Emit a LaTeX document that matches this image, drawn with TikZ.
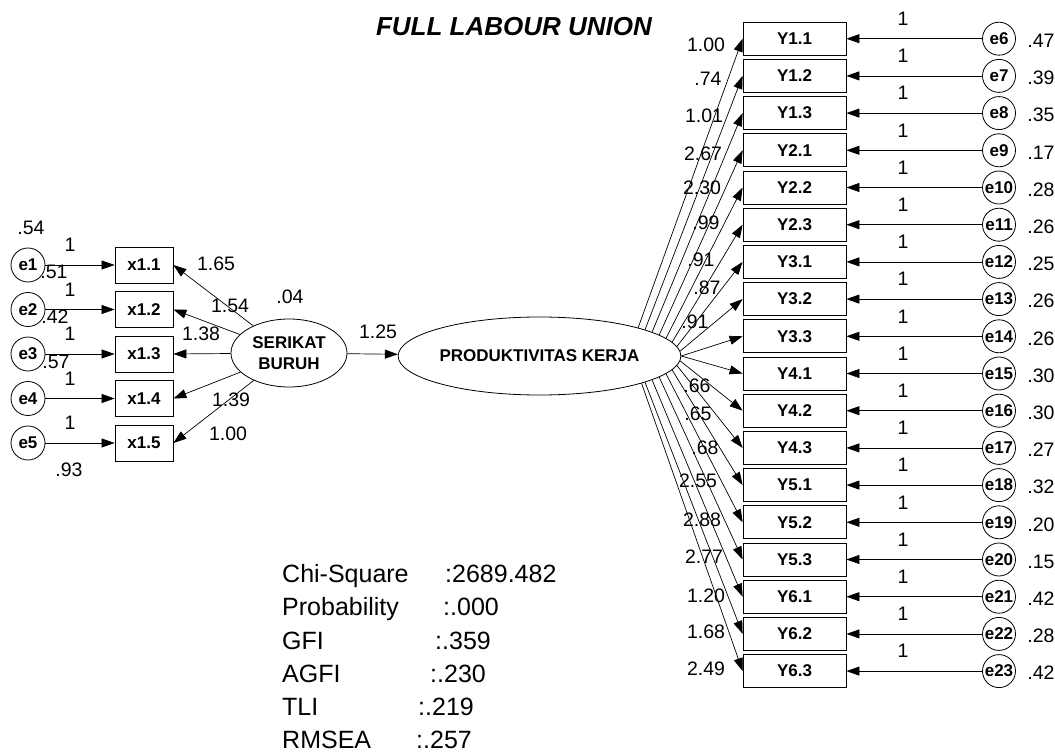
\documentclass[tikz,border=0pt]{standalone}
\usepackage{fontspec}
\setmainfont{Liberation Sans}
\usetikzlibrary{shapes.geometric,arrows.meta}
\begin{document}
\begin{tikzpicture}[x=1pt,y=-1pt,
  num/.style={font=\fontsize{19.5}{22}\selectfont, inner sep=0},
  lbl/.style={font=\fontsize{17}{19}\selectfont\bfseries},
  ybox/.style={draw, line width=0.8pt, minimum width=103pt, minimum height=33pt, inner sep=0, lbl},
  xbox/.style={draw, line width=0.8pt, minimum width=58pt, minimum height=36pt, inner sep=0, lbl},
  err/.style={draw, circle, minimum size=33pt, inner sep=0, line width=0.8pt, lbl},
  lat/.style={draw, ellipse, line width=0.8pt, inner sep=0, lbl, align=center},
  arr/.style={-{Triangle[length=13pt,width=9pt]}, line width=0.7pt},
  stat/.style={font=\fontsize{25}{28}\selectfont, anchor=base west, inner sep=0},
]
\useasboundingbox (0,0) rectangle (1055,754);

% title
\node[font=\fontsize{26}{30}\selectfont\bfseries\itshape, inner sep=0] (title) at (514,27) {FULL LABOUR UNION};

% latent variables
\node[lat, minimum width=116pt, minimum height=68pt] (sb) at (289,353) {SERIKAT\\[2pt]BURUH};
\node[lat, minimum width=253pt, minimum height=78pt] (pk) at (539.5,356) {PRODUKTIVITAS KERJA};
\draw[arr] (sb) -- (pk);
\node[num] (l125) at (378,332) {1.25};
\node[num] (l04) at (290,297) {.04};

% left indicators
\foreach \lab [count=\k from 0] in {x1.1,x1.2,x1.3,x1.4,x1.5} {
  \pgfmathsetmacro\yy{265+44.5*\k}
  \pgfmathtruncatemacro\en{\k+1}
  \node[xbox] (x\k) at (144,\yy) {\lab};
  \node[err, minimum size=34pt] (le\k) at (28,\yy) {e\en};
  \draw[arr] (le\k) -- (x\k);
  \draw[arr] (sb) -- (x\k.east);
  \node[num] (lone\k) at (70,\yy-20) {1};
}
\node[num] (v1) at (31,228) {.54};
\node[num] (v2) at (54,272) {.51};
\node[num] (v3) at (55,317) {.42};
\node[num] (v4) at (56,362) {.57};
\node[num] (v5) at (69,470) {.93};
\node[num] (s1) at (216,264) {1.65};
\node[num] (s2) at (230,306) {1.54};
\node[num] (s3) at (201,334) {1.38};
\node[num] (s4) at (231,400) {1.39};
\node[num] (s5) at (228,434) {1.00};

% right indicators
\foreach \lab/\v [count=\i from 0] in {Y1.1/.47,Y1.2/.39,Y1.3/.35,Y2.1/.17,Y2.2/.28,Y2.3/.26,Y3.1/.25,Y3.2/.26,Y3.3/.26,Y4.1/.30,Y4.2/.30,Y4.3/.27,Y5.1/.32,Y5.2/.20,Y5.3/.15,Y6.1/.42,Y6.2/.28,Y6.3/.42} {
  \pgfmathsetmacro\yy{38.7+37.2*\i}
  \pgfmathsetmacro\ang{-(\yy-356)/317*16}
  \pgfmathtruncatemacro\en{\i+6}
  \node[ybox] (y\i) at (794.5,\yy) {\lab};
  \node[err] (re\i) at (999,\yy) {e\en};
  \draw[arr] (re\i) -- (y\i);
  \draw[arr] (pk.\ang) -- (y\i.west);
  \node[num] (rone\i) at (903,\yy-20) {1};
  \node[num] (rv\i) at (1041,\yy+2) {\v};
}

% loading labels right
\foreach \t/\px/\py [count=\j] in {1.00/706/45,.74/708/79,1.01/704/116,2.67/703/154,2.30/702/188,.99/706/223,.91/701/260,.87/707/288,.91/695/322,.66/697/386,.65/698/414,.68/705/448,2.55/698/481,2.88/702/520,2.77/704/557,1.20/706/596,1.68/706/632,2.49/706/669} {
  \node[num] (ld\j) at (\px,\py) {\t};
}

% fit statistics
\node[stat] (n1) at (282,582) {Chi-Square};
\node[stat] (n2) at (282,615.5) {Probability};
\node[stat] (n3) at (282,649) {GFI};
\node[stat] (n4) at (282,682) {AGFI};
\node[stat] (n5) at (282,715) {TLI};
\node[stat] (n6) at (282,748) {RMSEA};
\node[stat] (w1) at (445,582) {:2689.482};
\node[stat] (w2) at (443,615.5) {:.000};
\node[stat] (w3) at (435,649) {:.359};
\node[stat] (w4) at (430,682) {:.230};
\node[stat] (w5) at (418,715) {:.219};
\node[stat] (w6) at (416,748) {:.257};
\end{tikzpicture}
\end{document}
